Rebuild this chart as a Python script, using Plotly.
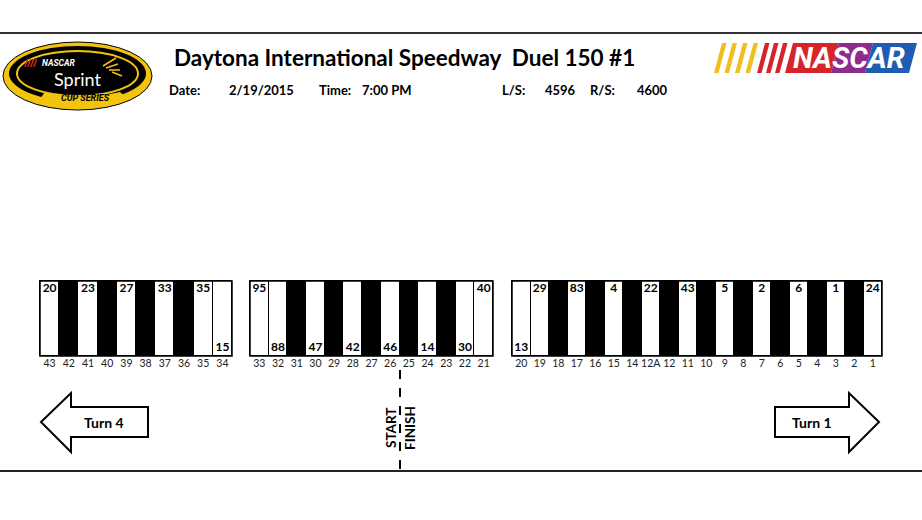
import plotly.graph_objects as go

# Pit stall data, read left to right (Turn 4 side -> Turn 1 side)
left_stalls = ["43", "42", "41", "40", "39", "38", "37", "36", "35", "34"]
left_top = ["20", "", "23", "", "27", "", "33", "", "35", ""]
left_bottom = ["", "", "", "", "", "", "", "", "", "15"]

mid_stalls = ["33", "32", "31", "30", "29", "28", "27", "26", "25", "24", "23", "22", "21"]
mid_top = ["95", "", "", "", "", "", "", "", "", "", "", "", "40"]
mid_bottom = ["", "88", "", "47", "", "42", "", "46", "", "14", "", "30", ""]

right_stalls = ["20", "19", "18", "17", "16", "15", "14", "12A", "12", "11",
                "10", "9", "8", "7", "6", "5", "4", "3", "2", "1"]
right_top = ["", "29", "", "83", "", "4", "", "22", "", "43",
             "", "5", "", "2", "", "6", "", "1", "", "24"]
right_bottom = ["13", "", "", "", "", "", "", "", "", "",
                "", "", "", "", "", "", "", "", "", ""]

title_text = "Daytona International Speedway  Duel 150 #1"
race_date = "2/19/2015"
race_time = "7:00 PM"
left_side = "4596"
right_side = "4600"

# layout of the three stall blocks (pixel space)
group_edges = [(40, 232), (250, 493), (512, 882)]
groups = [(left_stalls, left_top, left_bottom),
          (mid_stalls, mid_top, mid_bottom),
          (right_stalls, right_top, right_bottom)]
STALL_TOP, STALL_BOT = 281, 356

xs, ws, colors, labels, tops, bots = [], [], [], [], [], []
for (x0, x1), (stalls, top, bot) in zip(group_edges, groups):
    w = (x1 - x0) / len(stalls)
    for i, s in enumerate(stalls):
        xs.append(x0 + (i + 0.5) * w)
        ws.append(w)
        occupied = top[i] != "" or bot[i] != ""
        colors.append("white" if occupied else "black")
        labels.append(s)
        tops.append("<b>%s</b>" % top[i] if top[i] else "")
        bots.append("<b>%s</b>" % bot[i] if bot[i] else "")

FONT = "Lato"
fig = go.Figure()
fig.add_trace(go.Bar(x=xs, y=[STALL_BOT - STALL_TOP] * len(xs), base=STALL_TOP,
                     width=ws, marker=dict(color=colors, line=dict(color="black", width=1)),
                     hoverinfo="skip", showlegend=False))
fig.add_trace(go.Scatter(x=xs, y=[289] * len(xs), mode="text", text=tops,
                         textfont=dict(family=FONT, size=12, color="black"),
                         hoverinfo="skip", showlegend=False))
fig.add_trace(go.Scatter(x=xs, y=[348] * len(xs), mode="text", text=bots,
                         textfont=dict(family=FONT, size=12, color="black"),
                         hoverinfo="skip", showlegend=False))
fig.add_trace(go.Scatter(x=xs, y=[364] * len(xs), mode="text", text=labels,
                         textfont=dict(family=FONT, size=10.5, color="#222"),
                         hoverinfo="skip", showlegend=False))

shapes = []
for x0, x1 in group_edges:
    shapes.append(dict(type="rect", x0=x0, x1=x1, y0=STALL_TOP, y1=STALL_BOT,
                       line=dict(color="black", width=1.5)))

# frame lines
shapes.append(dict(type="line", x0=0, x1=922, y0=33, y1=33, line=dict(color="#333", width=2)))
shapes.append(dict(type="line", x0=0, x1=922, y0=471, y1=471, line=dict(color="#222", width=2)))
# start / finish
shapes.append(dict(type="line", x0=400, x1=400, y0=370, y1=471,
                   line=dict(color="black", width=2, dash="dash")))
# turn arrows
shapes.append(dict(type="path", path="M 41 422 L 71 393 L 71 407 L 148 407 L 148 437 L 71 437 L 71 452 Z",
                   fillcolor="white", line=dict(color="black", width=2)))
shapes.append(dict(type="path", path="M 879 422 L 849 393 L 849 407 L 775 407 L 775 437 L 849 437 L 849 452 Z",
                   fillcolor="white", line=dict(color="black", width=2)))

# Sprint Cup logo (approximation)
YEL = "#f2c40f"
shapes.append(dict(type="circle", x0=3, x1=152, y0=42, y1=110, fillcolor=YEL, line=dict(color="black", width=1)))
shapes.append(dict(type="circle", x0=9, x1=146, y0=46, y1=101, fillcolor="black", line=dict(width=0)))
shapes.append(dict(type="circle", x0=17, x1=138, y0=51, y1=96, fillcolor="rgba(0,0,0,0)", line=dict(color=YEL, width=2)))
shapes.append(dict(type="path", path="M 45 92 Q 77 102 120 92 L 128 99 Q 77 108 40 99 Z",
                   fillcolor=YEL, line=dict(width=0)))
for k in range(4):
    shapes.append(dict(type="line", x0=103 + k * 3, x1=116 + k * 2, y0=66 + k * 2, y1=58 + k * 6,
                       line=dict(color=YEL, width=1.5)))
for k in range(4):
    shapes.append(dict(type="path", path="M %d 67 L %.1f 67 L %.1f 59 L %d 59 Z" % (24 + 3 * k, 25.5 + 3 * k, 28.5 + 3 * k, 27 + 3 * k),
                       fillcolor="#d52b1e", line=dict(width=0)))

# NASCAR logo (approximation)
def para(xb, wb, col):
    return dict(type="path", path="M %.1f 73 L %.1f 73 L %.1f 43 L %.1f 43 Z" % (xb, xb + wb, xb + wb + 8, xb + 8),
                fillcolor=col, line=dict(width=0))

for k in range(4):
    shapes.append(para(714 + 10.5 * k, 4.5, "#f3bd1e"))
for k in range(3):
    shapes.append(para(757 + 9 * k, 4.5, "#d5242a"))
shapes.append(para(785, 46, "#d5242a"))
shapes.append(para(831, 34, "#8e2b8c"))
shapes.append(para(865, 44, "#1f5db3"))

ann = []
def txt(x, y, t, size, anchor="left", bold=True, color="black", angle=0, family=FONT, italic=False):
    if bold:
        t = "<b>%s</b>" % t
    if italic:
        t = "<i>%s</i>" % t
    ann.append(dict(x=x, y=y, text=t, showarrow=False, xanchor=anchor, yanchor="middle",
                    textangle=angle, font=dict(family=family, size=size, color=color)))

txt(172, 57, title_text, 22.5)
txt(167, 90, "Date:", 13)
txt(227, 90, race_date, 13)
txt(317, 90, "Time:", 13)
txt(360, 90, race_time, 13)
txt(500, 90, "L/S:", 13)
txt(543, 90, left_side, 13)
txt(588, 90, "R/S:", 13)
txt(635, 90, right_side, 13)
txt(104, 422, "Turn 4", 14, anchor="center")
txt(812, 422, "Turn 1", 14, anchor="center")
txt(391, 428, "START", 13.5, anchor="center", angle=-90)
txt(410, 428, "FINISH", 13.5, anchor="center", angle=-90)
txt(849, 58, "NASCAR", 29, anchor="center", color="white", italic=True, family="Roboto")
txt(58, 63, "NASCAR", 8.5, anchor="center", color="white", italic=True, family="Roboto")
txt(77, 79, "Sprint", 18, anchor="center", bold=False, color="white")
txt(85, 98, "CUP SERIES", 9, anchor="center", italic=True, family="Roboto")

fig.update_layout(
    width=922, height=520,
    margin=dict(l=0, r=0, t=0, b=0),
    paper_bgcolor="white", plot_bgcolor="white",
    xaxis=dict(range=[0, 922], visible=False, fixedrange=True),
    yaxis=dict(range=[520, 0], visible=False, fixedrange=True),
    bargap=0, barmode="overlay",
    shapes=shapes, annotations=ann,
)

fig.write_html("out.html", config={"displayModeBar": False},
               post_script="document.body.style.margin='0';")
